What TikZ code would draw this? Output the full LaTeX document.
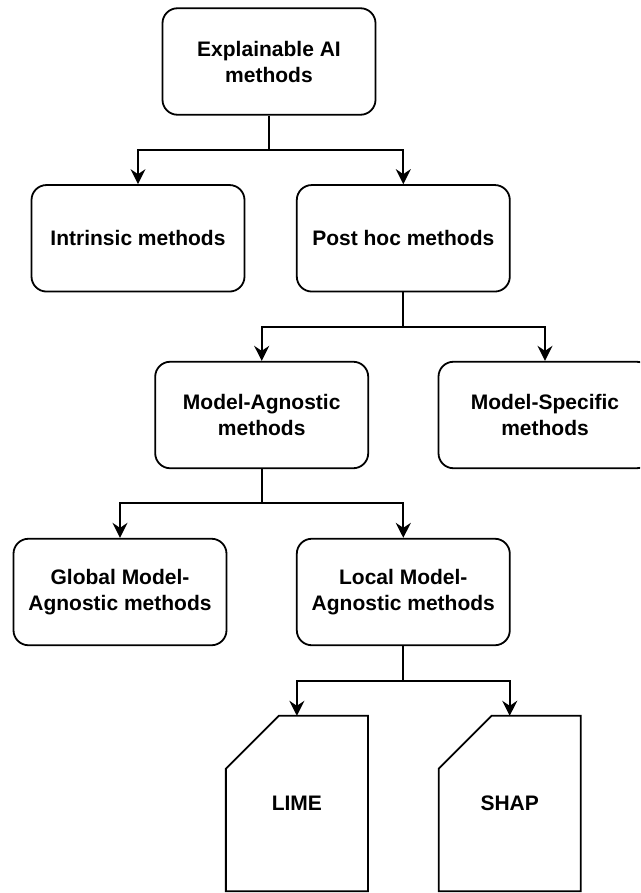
\documentclass[tikz,border=0pt]{standalone}
\usepackage{fontspec}
\setmainfont{Liberation Sans}
\usetikzlibrary{arrows.meta}
\begin{document}
\begin{tikzpicture}[x=1pt,y=-1pt,
  every node/.style={font=\bfseries\fontsize{21}{26}\selectfont, align=center, inner sep=0pt},
  box/.style={draw, line width=1.8pt, rounded corners=15pt, minimum width=213pt, minimum height=106.5pt},
  card/.style={minimum width=141.7pt, minimum height=175pt},
  cardline/.style={line width=1.8pt, line join=miter},
  link/.style={line width=1.8pt, -{Stealth[length=15pt,width=15pt,inset=5pt]}}]
  \clip (0,0) rectangle (640,893);
  \fill[white] (0,0) rectangle (640,893);

  % method boxes
  \node[box] (xai)   at (269,61.5)    {Explainable AI\\methods};
  \node[box] (intr)  at (138,238.3)   {Intrinsic methods};
  \node[box] (post)  at (403.3,238.3) {Post hoc methods};
  \node[box] (agn)   at (261.7,415)   {Model-Agnostic\\methods};
  \node[box] (spec)  at (545,415)     {Model-Specific\\methods};
  \node[box] (glob)  at (120,592)     {Global Model-\\Agnostic methods};
  \node[box] (loc)   at (403.3,592)   {Local Model-\\Agnostic methods};

  % card-shaped leaves
  \node[card] (lime) at (296.9,803.5) {LIME};
  \node[card] (shap) at (509.7,803.5) {SHAP};
  \foreach \c in {lime,shap}{
    \draw[cardline] ([xshift=53pt]\c.north west) -- (\c.north east) -- (\c.south east)
      -- (\c.south west) -- ([yshift=-53pt]\c.north west) -- cycle;
  }

  % elbow connectors
  \foreach \p/\y/\a/\b in {xai/150/intr/post, post/326.7/agn/spec, agn/503.3/glob/loc, loc/680.7/lime/shap}{
    \draw[line width=1.8pt] (\p.south) -- (\p.south |- 0,\y);
    \draw[link] (\p.south |- 0,\y) -| (\a.north);
    \draw[link] (\p.south |- 0,\y) -| (\b.north);
  }
\end{tikzpicture}
\end{document}
